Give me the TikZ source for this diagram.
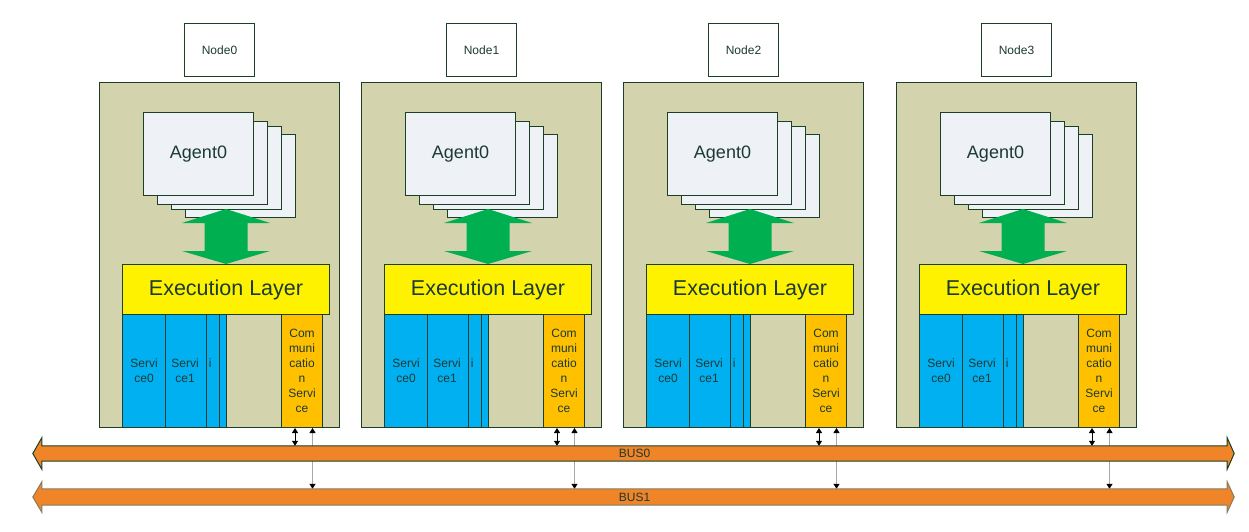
\documentclass[tikz,border=0pt]{standalone}
\usepackage{fontspec}
\setmainfont{Liberation Sans}
\usetikzlibrary{arrows.meta,positioning}
\pgfdeclarelayer{fondo}
\pgfsetlayers{fondo,main}

\definecolor{edgec}{RGB}{28,64,38}
\definecolor{hostc}{RGB}{211,211,173}
\definecolor{cardc}{RGB}{238,241,246}
\definecolor{greenc}{RGB}{0,176,80}
\definecolor{servc}{RGB}{0,176,240}
\definecolor{commc}{RGB}{255,192,0}
\definecolor{busc}{RGB}{240,132,40}
\definecolor{textc}{RGB}{28,58,52}
\definecolor{wirec}{RGB}{168,168,168}

\newcommand\fsmall{\fontsize{12}{15}\selectfont}
\newcommand\fagent{\fontsize{18}{22}\selectfont}
\newcommand\fexec{\fontsize{21.5}{26}\selectfont}

\tikzset{
  box/.style={draw=edgec, line width=1pt, inner sep=0pt, anchor=north west, text=textc},
  namebox/.style={box, fill=white, minimum width=70pt, minimum height=53pt, font=\fsmall},
  hostbox/.style={box, fill=hostc, minimum width=240pt, minimum height=345pt},
  cardbox/.style={box, fill=cardc, minimum width=110pt, minimum height=83pt, font=\fagent},
  execbox/.style={box, fill=yellow, minimum width=207pt, minimum height=50pt, font=\fexec},
  servbox/.style={box, fill=servc, minimum width=43pt, minimum height=113pt, font=\fsmall, align=center},
  commbox/.style={box, fill=commc, minimum width=41pt, minimum height=113pt, font=\fsmall, align=center},
  busbar/.style={inner sep=0pt, minimum width=1185pt, text=textc, font=\fsmall},
  dblwire/.style={line width=1pt, black, {Triangle[width=6pt, length=5pt]}-{Triangle[width=6pt, length=5pt]}},
  wire/.style={line width=1pt, wirec, {Triangle[black, width=6pt, length=5pt]}-{Triangle[black, width=6pt, length=5pt]}}
}

\begin{document}
\begin{tikzpicture}[x=1pt, y=-1pt]
  \useasboundingbox (0,0) rectangle (1249,532);
  % Buses (texto)
  \node[busbar, minimum height=15pt] (bus0) at (634.5,453.5) {BUS0};
  \node[busbar, minimum height=16pt] (bus1) at (634.5,497) {BUS1};
  % Nodos
  \foreach \x/\n in {99/0, 361/1, 623/2, 896/3} {
    \node[namebox] (name\n) at ({\x+85},23) {Node\n};
    \node[hostbox] (host\n) at (\x,82) {};
    % Agentes
    \foreach \dx/\dy in {42/22, 28/14, 14/9}
      \node[cardbox] (card\n-\dx) at ({\x+44+\dx},{112+\dy}) {};
    \node[cardbox] (agent\n) at ({\x+44},112) {Agent0};
    % Capa de ejecucion
    \node[execbox] (exec\n) at ({\x+23},264) {Execution Layer};
    \fill[greenc] (exec\n.north) -- ++(-44,-13) -- ++(22.5,0) -- ++(0,-28) -- ++(-22.5,0)
      -- ++(44,-14) -- ++(44,14) -- ++(-22.5,0) -- ++(0,28) -- ++(22.5,0) -- cycle;
    % Servicios
    \node[servbox] (srv\n-3) at ({\x+84},314) {};
    \node[servbox, text width=27pt, align=right] (srv\n-2) at ({\x+77},314) {i\\\phantom{c}};
    \node[servbox] (srv\n-1) at ({\x+64},314) {Servi\\ce1};
    \node[servbox] (srv\n-0) at ({\x+23},314) {Servi\\ce0};
    \node[commbox] (comm\n) at ({\x+182},314) {Com\\muni\\catio\\n\\Servi\\ce};
    % Conexiones a los buses
    \coordinate (dn\n) at ([xshift=-7pt]comm\n.south);
    \coordinate (up\n) at ([xshift=10.5pt]comm\n.south);
    \draw[dblwire] (dn\n) -- (dn\n |- bus0.north);
    \begin{pgfonlayer}{fondo}
      \draw[wire] (up\n) -- (up\n |- bus1.north);
    \end{pgfonlayer}
  }
  % Buses
  \begin{pgfonlayer}{fondo}
    \filldraw[fill=busc, draw=edgec, line width=1pt]
      (bus0.north west) -- (bus0.north east) -- ([yshift=8pt]bus0.north east)
      -- ([xshift=7pt]bus0.east) -- ([yshift=-8pt]bus0.south east) -- (bus0.south east)
      -- (bus0.south west) -- ([yshift=-8pt]bus0.south west) -- ([xshift=-9pt]bus0.west)
      -- ([yshift=8pt]bus0.north west) -- cycle;
    \filldraw[fill=busc, draw={rgb,255:red,130;green,125;blue,100}, line width=1pt]
      (bus1.north west) -- (bus1.north east) -- ([yshift=7pt]bus1.north east)
      -- ([xshift=7pt]bus1.east) -- ([yshift=-7pt]bus1.south east) -- (bus1.south east)
      -- (bus1.south west) -- ([yshift=-7pt]bus1.south west) -- ([xshift=-9pt]bus1.west)
      -- ([yshift=7pt]bus1.north west) -- cycle;
  \end{pgfonlayer}
\end{tikzpicture}
\end{document}
